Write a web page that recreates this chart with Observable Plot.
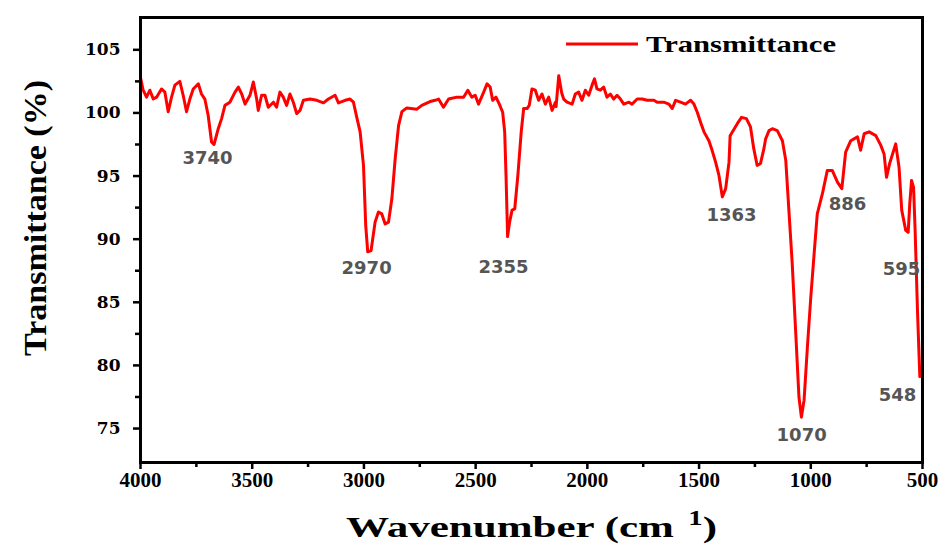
<!DOCTYPE html>
<html>
<head>
<meta charset="utf-8">
<script src="https://cdn.jsdelivr.net/npm/d3@7"></script>
<script src="https://cdn.jsdelivr.net/npm/@observablehq/plot@0.6"></script>
<style>
  html, body { margin: 0; padding: 0; background: #fff; }
  #chart svg { display: block; }
</style>
</head>
<body>
<div id="chart"></div>
<script>
// ---- data ----
const wavenumber = [
  4000, 3988, 3973, 3958, 3943, 3928, 3906, 3891, 3876, 3861, 3846, 3824, 3809, 3794, 3779, 3764,
  3741, 3727, 3712, 3697, 3682, 3671, 3652, 3637, 3622, 3600, 3577, 3562, 3547, 3532, 3510, 3495,
  3480, 3473, 3458, 3443, 3428, 3405, 3391, 3376, 3361, 3346, 3331, 3316, 3301, 3286, 3271, 3241,
  3211, 3181, 3159, 3129, 3114, 3084, 3062, 3047, 3032, 3017, 3002, 2992, 2983, 2968, 2950, 2935,
  2920, 2905, 2890, 2875, 2860, 2845, 2830, 2808, 2763, 2741, 2704, 2681, 2666, 2644, 2621, 2584,
  2554, 2535, 2517, 2502, 2487, 2464, 2449, 2435, 2424, 2409, 2394, 2379, 2370, 2364, 2357, 2348,
  2337, 2325, 2311, 2296, 2285, 2270, 2260, 2248, 2233, 2218, 2203, 2188, 2173, 2158, 2143, 2140,
  2128, 2115, 2106, 2091, 2068, 2054, 2039, 2024, 2009, 1994, 1979, 1968, 1957, 1942, 1927, 1912,
  1897, 1882, 1867, 1852, 1837, 1814, 1800, 1777, 1755, 1732, 1702, 1688, 1658, 1635, 1620, 1605,
  1583, 1561, 1538, 1523, 1508, 1493, 1478, 1456, 1441, 1426, 1411, 1396, 1381, 1366, 1361, 1329,
  1310, 1288, 1270, 1255, 1240, 1225, 1210, 1202, 1187, 1172, 1150, 1127, 1112, 1097, 1083, 1068,
  1053, 1042, 1030, 1015, 1000, 985, 971, 948, 926, 904, 880, 861, 844, 821, 791, 777,
  761, 739, 709, 687, 672, 661, 647, 620, 605, 593, 575, 564, 557, 549, 540, 533,
  522, 512
];
const transmittance = [
  102.8, 101.8, 101.25, 101.8, 101.1, 101.25, 101.9, 101.65, 100.1, 101.25, 102.2, 102.5, 101.4, 100.1, 101.1, 101.9,
  102.3, 101.5, 101.1, 99.8, 97.7, 97.5, 98.75, 99.55, 100.6, 100.85, 101.65, 102.05, 101.5, 100.7, 101.4, 102.45,
  101.1, 100.2, 101.4, 101.4, 100.45, 100.85, 100.45, 101.65, 101.25, 100.6, 101.5, 100.85, 99.95, 100.2, 101.0, 101.1,
  101.0, 100.8, 101.1, 101.4, 100.8, 101.0, 101.1, 100.85, 99.65, 98.5, 95.85, 91.1, 89.0, 89.1, 91.35, 92.15,
  92.0, 91.2, 91.35, 93.2, 96.4, 99.0, 100.1, 100.4, 100.3, 100.6, 100.9, 101.0, 101.1, 100.45, 101.1, 101.25,
  101.25, 101.8, 101.25, 101.4, 100.7, 101.65, 102.3, 102.05, 101.0, 101.25, 100.7, 100.05, 98.5, 95.05, 90.2, 91.35,
  92.3, 92.4, 95.05, 98.5, 100.35, 100.35, 100.6, 101.9, 101.8, 101.0, 101.5, 100.7, 101.25, 100.2, 100.85, 100.5,
  102.95, 101.6, 101.1, 100.85, 100.7, 101.5, 101.65, 101.0, 101.8, 101.4, 102.2, 102.7, 101.9, 101.8, 102.05, 101.25,
  101.5, 101.1, 101.4, 101.1, 100.7, 100.85, 100.7, 101.1, 101.1, 101.0, 101.0, 100.85, 100.85, 100.7, 100.35, 101.0,
  100.85, 100.7, 101.0, 100.7, 100.05, 99.25, 98.5, 97.8, 97.0, 96.1, 95.05, 93.35, 94.0, 96.1, 98.2, 99.15,
  99.65, 99.55, 98.9, 97.15, 95.85, 96.0, 97.15, 97.95, 98.6, 98.75, 98.6, 97.8, 96.25, 92.0, 88.05, 82.8,
  77.5, 75.9, 77.25, 81.5, 85.4, 88.85, 92.0, 93.6, 95.45, 95.45, 94.5, 94.0, 96.9, 97.8, 98.1, 97.05,
  98.35, 98.5, 98.2, 97.45, 96.75, 94.9, 96.0, 97.55, 95.7, 92.3, 90.7, 90.55, 92.8, 94.65, 94.1, 90.7,
  84.1, 79.1
];

// peak annotations: label text and where it sits (data coordinates)
const peakLabels = ["3740", "2970", "2355", "1363", "886", "1070", "595", "548"];
const peakLabelX = [3700, 2988, 2375, 1355, 836, 1041, 594, 612];
const peakLabelY = [96.4, 87.7, 87.8, 91.9, 92.75, 74.5, 87.6, 77.65];

// ticks
const xMajorTicks = [4000, 3500, 3000, 2500, 2000, 1500, 1000, 500];
const xMinorTicks = [3750, 3250, 2750, 2250, 1750, 1250, 750];
const yMajorTicks = [75, 80, 85, 90, 95, 100, 105];
const yMinorTicks = [77.5, 82.5, 87.5, 92.5, 97.5, 102.5];

const seriesName = "Transmittance";
const xTitle = "Wavenumber (cm";
const yTitle = "Transmittance (%)";

// ---- build ----
const spectrum = wavenumber.map((w, i) => ({w, t: transmittance[i]}));
const peaks = peakLabels.map((label, i) => ({label, x: peakLabelX[i], y: peakLabelY[i]}));

const W = 944, H = 545;
const mL = 140, mR = 22, mT = 17, mB = 83;

const svg = Plot.plot({
  width: W,
  height: H,
  marginLeft: mL,
  marginRight: mR,
  marginTop: mT,
  marginBottom: mB,
  x: {domain: [4000, 500]},
  y: {domain: [72.31, 107.56]},
  style: {background: "#fff", color: "#000", overflow: "visible"},
  marks: [
    Plot.line(spectrum, {x: "w", y: "t", stroke: "#ff0000", strokeWidth: 3, strokeLinejoin: "round"}),
    Plot.text(peaks, {
      x: "x", y: "y", text: "label", fill: "#555", fontSize: 18, fontWeight: "bold",
      fontFamily: "DejaVu Sans", textAnchor: "middle", lineAnchor: "middle"
    }),
    Plot.axisY(yMajorTicks, {
      tickSize: 7, tickPadding: 13, strokeWidth: 2.5, label: null,
      tickFormat: d => String(d),
      fontSize: 17, fontFamily: "DejaVu Serif", fontWeight: "bold"
    }),
    Plot.axisY(yMinorTicks, {tickSize: 5, strokeWidth: 2.5, text: null, label: null}),
    Plot.axisX(xMajorTicks, {
      tickSize: 7, tickPadding: 3, strokeWidth: 2.5, label: null,
      tickFormat: d => String(d),
      fontSize: 21, fontFamily: "Liberation Serif", fontWeight: "bold"
    }),
    Plot.axisX(xMinorTicks, {tickSize: 5, strokeWidth: 2.5, text: null, label: null}),
    Plot.frame({stroke: "#000", strokeWidth: 3})
  ]
});

document.getElementById("chart").appendChild(svg);

const s = d3.select(svg);

// legend
s.append("line")
  .attr("x1", 566).attr("x2", 638).attr("y1", 44).attr("y2", 44)
  .attr("stroke", "#ff0000").attr("stroke-width", 3);
s.append("text")
  .attr("x", 646).attr("y", 52)
  .attr("text-anchor", "start")
  .attr("font-family", "Liberation Serif").attr("font-weight", "bold")
  .attr("font-size", 23).attr("fill", "#000")
  .attr("textLength", 190).attr("lengthAdjust", "spacingAndGlyphs")
  .text(seriesName);

// x title with superscript
const xt = s.append("text")
  .attr("x", 346).attr("y", 537)
  .attr("text-anchor", "start")
  .attr("font-family", "Liberation Serif").attr("font-weight", "bold")
  .attr("font-size", 30).attr("fill", "#000")
  .attr("textLength", 371).attr("lengthAdjust", "spacingAndGlyphs");
xt.append("tspan").text(xTitle);
xt.append("tspan").attr("dx", 10).attr("dy", -12).attr("font-size", 20).text("1");
xt.append("tspan").attr("dy", 12).text(")");

// y title
s.append("text")
  .attr("transform", "translate(46,218) rotate(-90)")
  .attr("text-anchor", "middle")
  .attr("font-family", "Liberation Serif").attr("font-weight", "bold")
  .attr("font-size", 32).attr("fill", "#000")
  .attr("textLength", 276).attr("lengthAdjust", "spacingAndGlyphs")
  .text(yTitle);
</script>
</body>
</html>
